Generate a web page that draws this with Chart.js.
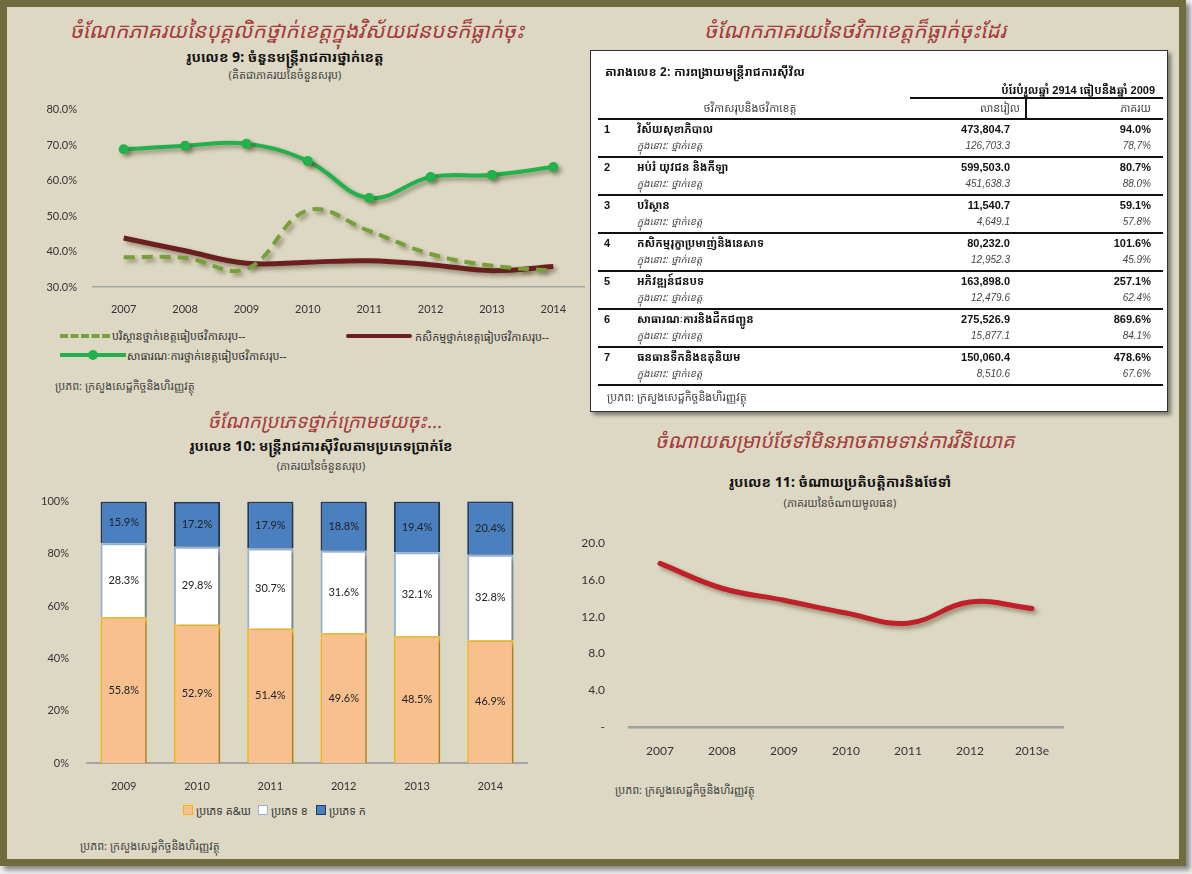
<!DOCTYPE html>
<html><head><meta charset="utf-8">
<script src="https://cdn.jsdelivr.net/npm/chart.js@4"></script>
<style>
body{margin:0;width:1192px;height:874px;background:#f0f0ee;overflow:hidden;font-family:"Noto Sans Khmer","Khmer OS","Noto Sans",sans-serif;position:relative;}
#frame{position:absolute;left:0;top:0;width:1172px;height:852px;border:7px solid #716b40;background:#ddd8c3;box-shadow:4px 4px 5px rgba(0,0,0,.45);}
.abs{position:absolute;white-space:nowrap;line-height:1;}
.c{transform:translate(-50%,-50%);}
.l{transform:translateY(-50%);}
.r{transform:translate(-100%,-50%);}
.red{color:#a53a3b;font-style:italic;font-size:21px;}
.ft{font-weight:bold;font-size:14px;color:#111;}
.sub{font-size:11px;color:#444;}
.src{font-size:11px;color:#444;}
.leg{font-size:11px;color:#333;}
.cv{position:absolute;}
#tbl{position:absolute;left:590px;top:50px;width:576px;height:360px;background:#fff;border:1.5px solid #333;box-shadow:3px 3px 4px rgba(0,0,0,.45);}
.tb{font-weight:bold;font-size:11px;color:#111;font-family:"Liberation Sans","Noto Sans Khmer",sans-serif;}
.ti{font-style:italic;font-size:10px;color:#444;font-family:"Liberation Sans","Noto Sans Khmer",sans-serif;}
.hl{position:absolute;background:#111;}
</style></head>
<body>
<div id="frame"></div>

<div class="abs c red" style="left:297px;top:30px">ចំណែកភាគរយនៃបុគ្គលិកថ្នាក់ខេត្តក្នុងវិស័យជនបទក៏ធ្លាក់ចុះ</div>
<div class="abs c ft" style="left:285px;top:57px">រូបលេខ 9: ចំនួនមន្ត្រីរាជការថ្នាក់ខេត្ត</div>
<div class="abs c sub" style="left:285px;top:74px">(គិតជាភាគរយនៃចំនួនសរុប)</div>

<div class="abs c red" style="left:855px;top:30px">ចំណែកភាគរយនៃថវិកាខេត្តក៏ធ្លាក់ចុះដែរ</div>

<div class="abs c red" style="left:325px;top:421px;font-size:19px">ចំណែកប្រភេទថ្នាក់ក្រោមថយចុះ...</div>
<div class="abs c ft" style="left:321px;top:446px">រូបលេខ 10: មន្ត្រីរាជការស៊ីវិលតាមប្រភេទប្រាក់ខែ</div>
<div class="abs c sub" style="left:321px;top:465px">(ភាគរយនៃចំនួនសរុប)</div>

<div class="abs c red" style="left:835px;top:441px;font-size:20px">ចំណាយសម្រាប់ថែទាំមិនអាចតាមទាន់ការវិនិយោគ</div>
<div class="abs c ft" style="left:840px;top:482px">រូបលេខ 11: ចំណាយប្រតិបត្តិការនិងថែទាំ</div>
<div class="abs c sub" style="left:840px;top:502px">(ភាគរយនៃចំណាយមូលធន)</div>

<canvas id="c1" class="cv" width="550" height="222" style="left:40px;top:95px"></canvas>
<canvas id="c2" class="cv" width="500" height="310" style="left:30px;top:485px"></canvas>
<canvas id="c3" class="cv" width="490" height="240" style="left:580px;top:520px"></canvas>

<!-- legend chart 1 -->
<div class="abs" style="left:60px;top:334px;width:50px;border-top:4px dashed #77a03a"></div>
<div class="abs l leg" style="left:112px;top:335px">បរិស្ថានថ្នាក់ខេត្តធៀបថវិកាសរុប--</div>
<div class="abs" style="left:346px;top:334px;width:66px;height:4px;background:#6b1f1f;border-radius:2px"></div>
<div class="abs l leg" style="left:415px;top:336px">កសិកម្មថ្នាក់ខេត្តធៀបថវិកាសរុប--</div>
<div class="abs" style="left:60px;top:353px;width:66px;height:4px;background:#22b14c"></div>
<div class="abs" style="left:88px;top:350px;width:10px;height:10px;border-radius:50%;background:#22b14c"></div>
<div class="abs l leg" style="left:127px;top:355px">សាធារណៈការថ្នាក់ខេត្តធៀបថវិកាសរុប--</div>
<div class="abs l src" style="left:55px;top:385px">ប្រភព: ក្រសួងសេដ្ឋកិច្ចនិងហិរញ្ញវត្ថុ</div>

<!-- legend chart 2 -->
<div class="abs" style="left:183px;top:805px;width:8px;height:8px;background:#f8c08e;border:1.5px solid #f5b800"></div>
<div class="abs l leg" style="left:196px;top:810px">ប្រភេទ គ&amp;ឃ</div>
<div class="abs" style="left:258px;top:805px;width:8px;height:8px;background:#fff;border:1.5px solid #95b3d7"></div>
<div class="abs l leg" style="left:271px;top:810px">ប្រភេទ ខ</div>
<div class="abs" style="left:316px;top:805px;width:8px;height:8px;background:#4a7fc0;border:1.5px solid #1f3864"></div>
<div class="abs l leg" style="left:329px;top:810px">ប្រភេទ ក</div>
<div class="abs l src" style="left:80px;top:845px">ប្រភព: ក្រសួងសេដ្ឋកិច្ចនិងហិរញ្ញវត្ថុ</div>

<div class="abs l src" style="left:615px;top:789px">ប្រភព: ក្រសួងសេដ្ឋកិច្ចនិងហិរញ្ញវត្ថុ</div>

<div id="tbl"></div>
<div id="tblc"></div>

<script>
// ---------- Figure 9 data ----------
const years9 = ['2007','2008','2009','2010','2011','2012','2013','2014'];
const envShare = [38.4,38.2,35.1,51.6,45.8,39.3,36.0,34.6];
const agriShare = [43.8,40.2,36.7,37.0,37.4,36.3,34.6,35.8];
const publicShare = [68.8,69.8,70.4,65.5,55.1,61.0,61.6,63.8];
const envLabel = 'បរិស្ថានថ្នាក់ខេត្តធៀបថវិកាសរុប--';
const agriLabel = 'កសិកម្មថ្នាក់ខេត្តធៀបថវិកាសរុប--';
const publicLabel = 'សាធារណៈការថ្នាក់ខេត្តធៀបថវិកាសរុប--';

// ---------- Figure 10 data ----------
const years10 = ['2009','2010','2011','2012','2013','2014'];
const typeCD = [55.8,52.9,51.4,49.6,48.5,46.9];
const typeB = [28.3,29.8,30.7,31.6,32.1,32.8];
const typeA = [15.9,17.2,17.9,18.8,19.4,20.4];
const typeLabels = ['ប្រភេទ គ&ឃ','ប្រភេទ ខ','ប្រភេទ ក'];

// ---------- Figure 11 data ----------
const years11 = ['2007','2008','2009','2010','2011','2012','2013e'];
const omSpending = [17.8,15.1,13.8,12.4,11.3,13.6,12.9];

// ---------- Table 2 data ----------
const tblNums = ['1','2','3','4','5','6','7'];
const tblNames = ['វិស័យសុខាភិបាល','អប់រំ យុវជន និងកីឡា','បរិស្ថាន','កសិកម្មរុក្ខាប្រមាញ់និងនេសាទ','អភិវឌ្ឍន៍ជនបទ','សាធារណៈការនិងដឹកជញ្ជូន','ធនធានទឹកនិងឧតុនិយម'];
const tblValues = ['473,804.7','599,503.0','11,540.7','80,232.0','163,898.0','275,526.9','150,060.4'];
const tblPcts = ['94.0%','80.7%','59.1%','101.6%','257.1%','869.6%','478.6%'];
const tblSubValues = ['126,703.3','451,638.3','4,649.1','12,952.3','12,479.6','15,877.1','8,510.6'];
const tblSubPcts = ['78,7%','88.0%','57.8%','45.9%','62.4%','84.1%','67.6%'];
const tblSubLabel = 'ក្នុងនោះ: ថ្នាក់ខេត្ត';

// ---------- build table ----------
(function(){
  const host = document.getElementById('tblc');
  let h = '';
  const add = (cls, x, y, txt, st) => { h += `<div class="abs ${cls}" style="left:${x}px;top:${y}px;${st||''}">${txt}</div>`; };
  add('l tb',605,72,'តារាងលេខ 2: ការពង្រាយមន្ត្រីរាជការស៊ីវិល','font-size:12px');
  add('r tb',1155,90,'បំរែបំរួលឆ្នាំ 2914 ធៀបនឹងឆ្នាំ 2009');
  h += `<div class="hl" style="left:910px;top:97px;width:253px;height:2px"></div>`;
  add('c ti',750,108,'ថវិកាសរុបនិងថវិកាខេត្ត','font-style:normal;font-size:11px');
  add('c ti',1000,108,'លានរៀល','font-style:normal;font-size:11px');
  add('r ti',1151,108,'ភាគរយ','font-style:normal;font-size:11px');
  h += `<div class="hl" style="left:1025px;top:98px;width:1.5px;height:20px"></div>`;
  h += `<div class="hl" style="left:598px;top:118px;width:565px;height:2px"></div>`;
  for (let i=0;i<tblNums.length;i++){
    const y = 129 + i*38;
    add('l tb',604,y,tblNums[i]);
    add('l tb',637,y,tblNames[i]);
    add('r tb',1010,y,tblValues[i]);
    add('r tb',1151,y,tblPcts[i]);
    add('l ti',637,y+17,tblSubLabel);
    add('r ti',1010,y+17,tblSubValues[i]);
    add('r ti',1151,y+17,tblSubPcts[i]);
    h += `<div class="hl" style="left:598px;top:${y+27}px;width:565px;height:2px"></div>`;
  }
  add('l src',607,396,'ប្រភព: ក្រសួងសេដ្ឋកិច្ចនិងហិរញ្ញវត្ថុ');
  host.innerHTML = h;
})();

// ---------- plugins ----------
const shadowPlugin = {
  id:'shadow',
  beforeDatasetsDraw(chart){ const c=chart.ctx; c.save(); c.shadowColor='rgba(60,50,20,0.45)'; c.shadowBlur=4; c.shadowOffsetX=3; c.shadowOffsetY=3; },
  afterDatasetsDraw(chart){ chart.ctx.restore(); }
};
const barLabels = {
  id:'barLabels',
  afterDatasetsDraw(chart){
    const c = chart.ctx; c.save();
    c.font = '11px Lato, "Open Sans", sans-serif'; c.fillStyle = '#222'; c.textAlign='center'; c.textBaseline='middle';
    chart.data.datasets.forEach((ds,di)=>{
      chart.getDatasetMeta(di).data.forEach((el,i)=>{
        c.fillText(ds.data[i].toFixed(1)+'%', el.x, (el.y+el.base)/2);
      });
    });
    c.restore();
  }
};

const tickFont = {family:'Lato, "Open Sans", sans-serif', size:11};
const tickColor = '#333';

// ---------- Figure 9 ----------
new Chart(document.getElementById('c1'), {
  type:'line',
  data:{ labels:years9, datasets:[
    {label:envLabel, data:envShare, borderColor:'#77a03a', borderWidth:4, borderDash:[11,7], pointRadius:0, tension:0.4, fill:false},
    {label:agriLabel, data:agriShare, borderColor:'#6b1f1f', borderWidth:5, pointRadius:0, tension:0.4, fill:false},
    {label:publicLabel, data:publicShare, borderColor:'#22b14c', backgroundColor:'#22b14c', borderWidth:4, pointRadius:5, pointBackgroundColor:'#22b14c', pointBorderWidth:0, tension:0.4, fill:false}
  ]},
  options:{
    responsive:false, animation:false, devicePixelRatio:1,
    layout:{padding:{top:13,right:6,left:0,bottom:0}},
    plugins:{legend:{display:false}, tooltip:{enabled:false}},
    scales:{
      x:{offset:true, grid:{display:false, offset:true}, border:{color:'#a6a6a6',width:1.5}, ticks:{color:tickColor,font:tickFont,padding:8}, afterFit(s){s.height=30;}},
      y:{min:30,max:80,grid:{display:false},border:{display:false},ticks:{stepSize:10,color:tickColor,font:tickFont,padding:8,callback:v=>v.toFixed(1)+'%'}, afterFit(s){s.width=53;}}
    }
  },
  plugins:[shadowPlugin]
});

// ---------- Figure 10 ----------
new Chart(document.getElementById('c2'), {
  type:'bar',
  data:{ labels:years10, datasets:[
    {label:typeLabels[0], data:typeCD, backgroundColor:'#f8c08e', borderColor:'#f5b800', borderWidth:1.5},
    {label:typeLabels[1], data:typeB, backgroundColor:'#ffffff', borderColor:'#95b3d7', borderWidth:2},
    {label:typeLabels[2], data:typeA, backgroundColor:'#4a7fc0', borderColor:'#1f3864', borderWidth:2}
  ]},
  options:{
    responsive:false, animation:false, devicePixelRatio:1,
    layout:{padding:{top:10,right:3,left:0,bottom:0}},
    datasets:{bar:{barPercentage:0.63,categoryPercentage:1}},
    plugins:{legend:{display:false}, tooltip:{enabled:false}},
    scales:{
      x:{stacked:true, grid:{display:false}, border:{color:'#a6a6a6',width:2}, ticks:{color:tickColor,font:tickFont,padding:9}, afterFit(s){s.height=32;}},
      y:{stacked:true, min:0, max:100, grid:{display:false}, border:{display:false}, ticks:{stepSize:20,color:tickColor,font:tickFont,padding:10,callback:v=>v+'%'}, afterFit(s){s.width=57;}}
    }
  },
  plugins:[shadowPlugin, barLabels]
});

// ---------- Figure 11 ----------
new Chart(document.getElementById('c3'), {
  type:'line',
  data:{ labels:years11, datasets:[
    {label:'ចំណាយប្រតិបត្តិការនិងថែទាំ', data:omSpending, borderColor:'#c0202a', borderWidth:5, pointRadius:0, tension:0.4, fill:false, borderCapStyle:'round'}
  ]},
  options:{
    responsive:false, animation:false, devicePixelRatio:1,
    layout:{padding:{top:13,right:7,left:0,bottom:0}},
    plugins:{legend:{display:false}, tooltip:{enabled:false}},
    scales:{
      x:{offset:true, grid:{display:false, offset:true}, border:{color:'#a0a0a0',width:2.5}, ticks:{color:tickColor,font:{family:'Lato, "Open Sans", sans-serif',size:12},padding:9}, afterFit(s){s.height=33;}},
      y:{min:0,max:20,grid:{display:false},border:{display:false},ticks:{stepSize:4,color:tickColor,font:{family:'Lato, "Open Sans", sans-serif',size:12},padding:16,callback:v=>v===0?'-':v.toFixed(1)}, afterFit(s){s.width=49;}}
    }
  },
  plugins:[shadowPlugin]
});
</script>
</body></html>
